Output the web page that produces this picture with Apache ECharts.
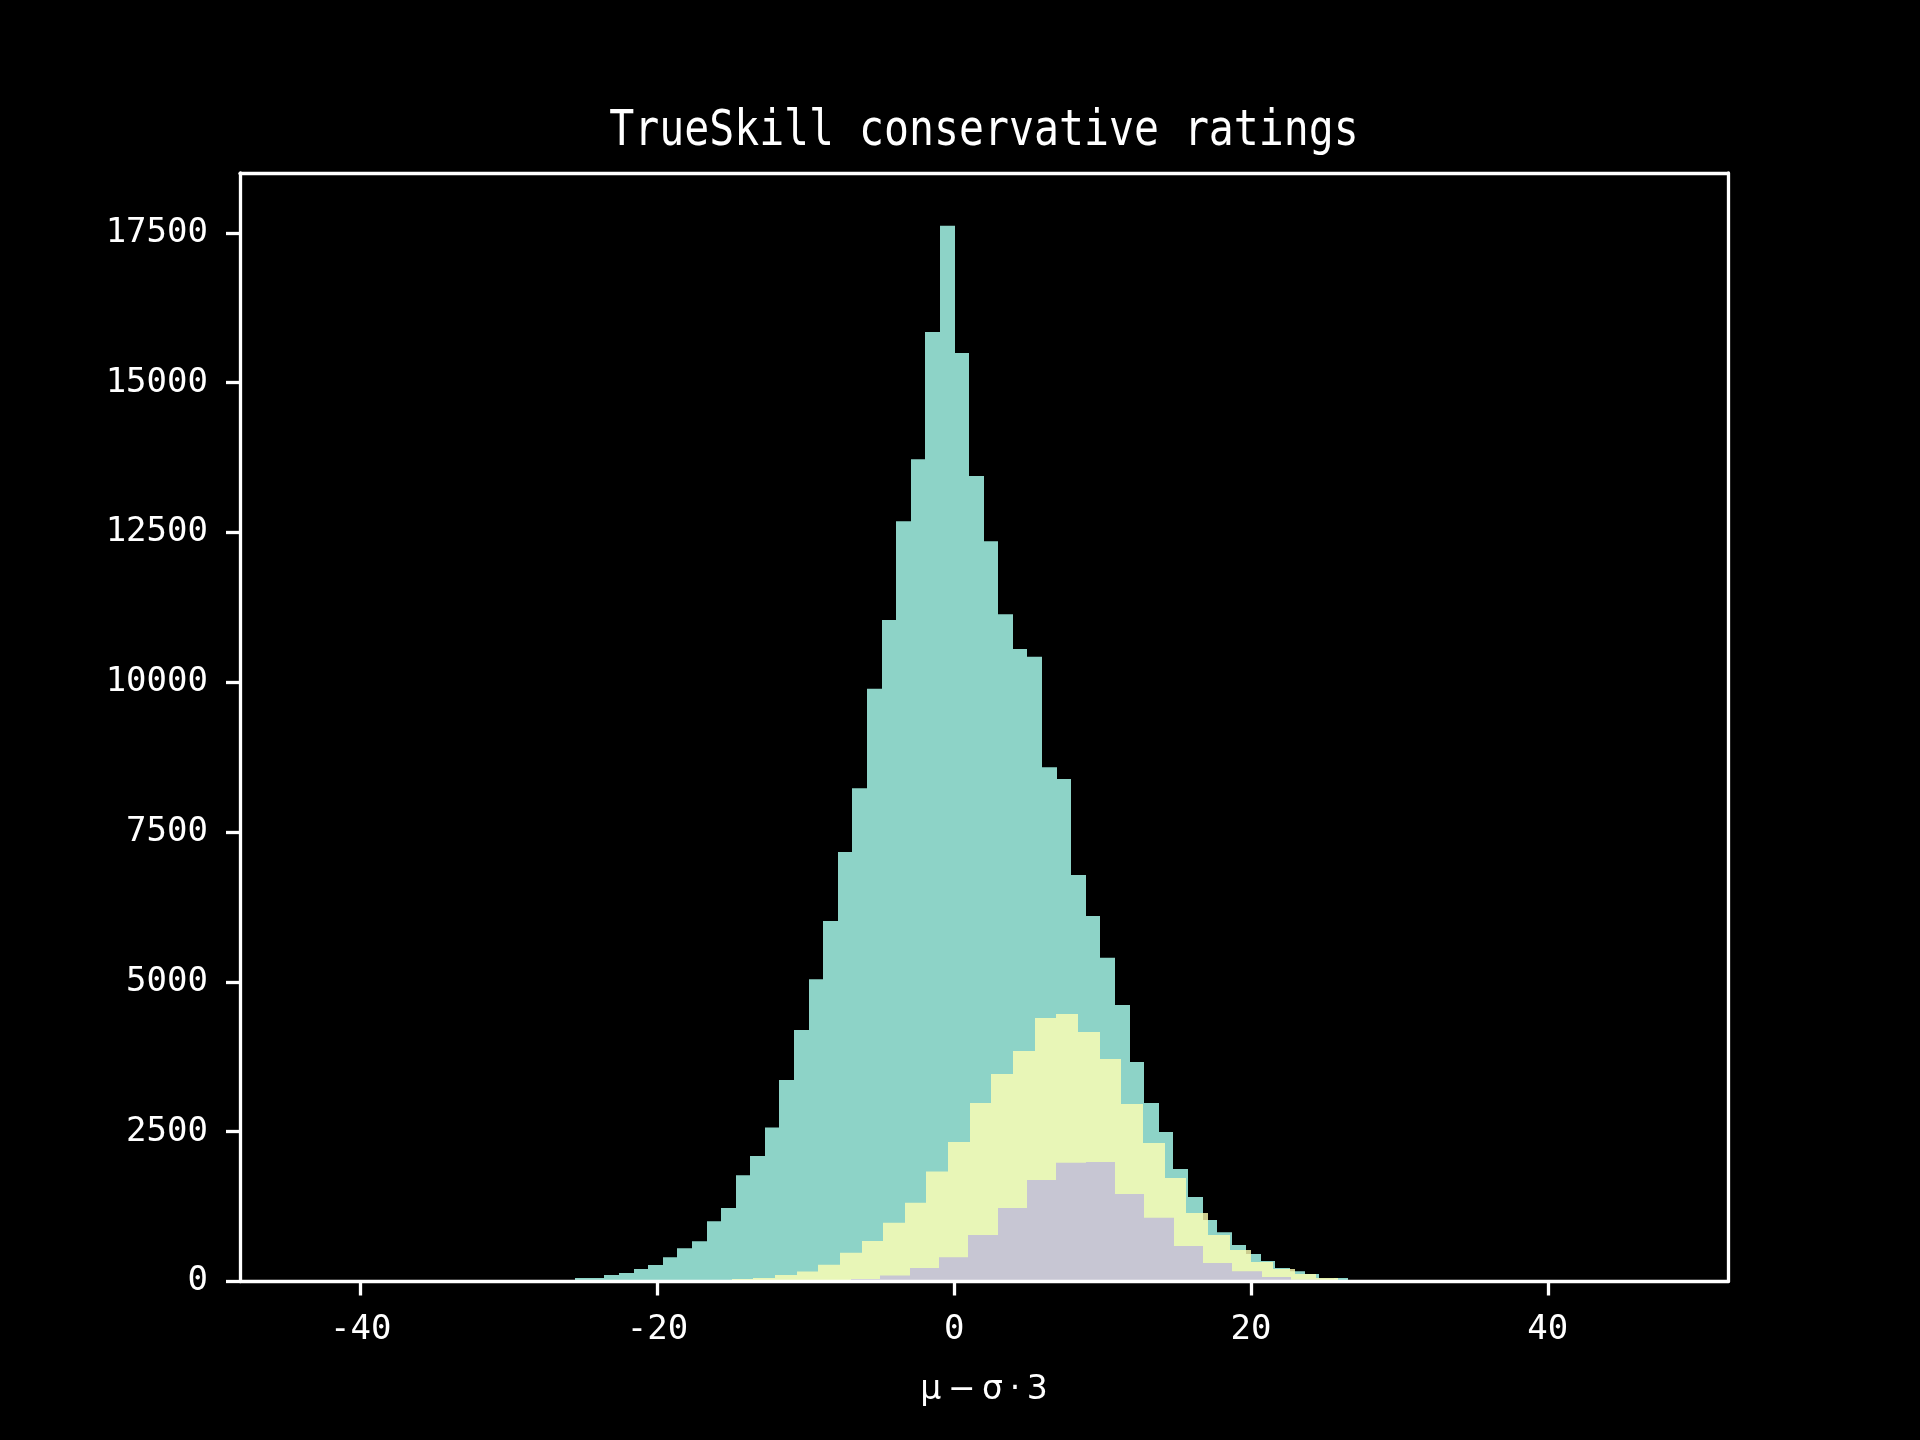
<!DOCTYPE html>
<html>
<head>
<meta charset="utf-8">
<script src="https://cdn.jsdelivr.net/npm/echarts@6/dist/echarts.min.js"></script>
<style>
html,body{margin:0;padding:0;background:#000;}
#chart{width:1920px;height:1440px;}
</style>
</head>
<body>
<div id="chart"></div>
<script>
// ---- data (histogram counts per bin; bins are evenly spaced) ----
const titleText = 'TrueSkill conservative ratings';
const xAxisName = 'μ\u2009−\u2009σ\u2009·\u20093';
const xTicks = [-40, -20, 0, 20, 40];
const yTicks = [0, 2500, 5000, 7500, 10000, 12500, 15000, 17500];

const tealStart = -27.508;
const tealWidth = 0.9831;
const tealCounts = [25, 25, 58, 58, 108, 142, 209, 275, 405, 556, 673, 1006, 1226,
  1773, 2096, 2572, 3361, 4196, 5043, 6017, 7166, 8233, 9893, 11041, 12689, 13721, 15845,
  17620, 15497, 13443, 12353, 11135, 10555, 10427, 8582, 8385, 6785, 6100, 5404, 4615, 3664,
  2979, 2494, 1877, 1412, 1028, 823, 610, 460, 343, 227, 173, 124, 55, 58, 25, 25];

const yellowStart = -16.46;
const yellowWidth = 1.459;
const yellowCounts = [25, 42, 60, 110, 165, 280, 480, 678, 980, 1315, 1835, 2329, 2980,
  3464, 3848, 4399, 4466, 4165, 3714, 2963, 2312, 1728, 1143, 776, 526, 326, 209, 125, 58, 25];

const purpleStart = -6.961;
const purpleWidth = 1.977;
const purpleCounts = [42, 100, 227, 405, 775, 1227, 1693, 1980, 1994, 1460, 1062, 591,
  309, 173, 77, 30];

// ---- build histogram data [binStart, binEnd, count] ----
function bins(start, width, counts) {
  return counts.map((c, i) => [start + i * width, start + (i + 1) * width, c]);
}

const FONT = '"DejaVu Sans Mono", "Liberation Mono", monospace';

function renderer(fill, opacity) {
  return function (params, api) {
    const p0 = api.coord([api.value(0), api.value(2)]);
    const p1 = api.coord([api.value(1), 0]);
    const left = Math.round(p0[0]);
    const right = Math.round(p1[0]);
    return {
      type: 'rect',
      shape: { x: left, y: p0[1], width: right - left, height: p1[1] - p0[1] },
      style: { fill: fill, opacity: opacity }
    };
  };
}

function histSeries(data, fill, opacity, z) {
  return {
    type: 'custom',
    data: data,
    encode: { x: [0, 1], y: 2 },
    renderItem: renderer(fill, opacity),
    clip: true,
    z: z,
    silent: true
  };
}

const whiteLine = { color: '#ffffff', width: 3.3 };
const plain = v => String(v);

const chart = echarts.init(document.getElementById('chart'), null, { renderer: 'canvas' });
chart.setOption({
  backgroundColor: '#000000',
  animation: false,
  grid: { left: 240, right: 192, top: 173, bottom: 158.5, containLabel: false },
  graphic: [{
    type: 'text',
    x: 984,
    y: 132,
    scaleX: 0.83,
    style: {
      text: titleText,
      font: '50px ' + FONT,
      fill: '#ffffff',
      align: 'center',
      verticalAlign: 'middle'
    }
  }],
  xAxis: [{
    type: 'value',
    position: 'bottom',
    min: -48.13,
    max: 52.14,
    z: 10,
    axisLine: { show: true, onZero: false, lineStyle: whiteLine },
    axisTick: { show: true, length: 14, lineStyle: whiteLine, customValues: xTicks },
    axisLabel: { show: true, customValues: xTicks, formatter: plain, color: '#ffffff', fontFamily: FONT, fontSize: 34, margin: 32 },
    splitLine: { show: false },
    name: xAxisName,
    nameLocation: 'middle',
    nameGap: 92,
    nameTextStyle: { color: '#ffffff', fontFamily: '"DejaVu Sans", sans-serif', fontSize: 33 }
  }, {
    type: 'value',
    position: 'top',
    min: -48.13,
    max: 52.14,
    z: 10,
    axisLine: { show: true, onZero: false, lineStyle: whiteLine },
    axisTick: { show: false },
    axisLabel: { show: false },
    splitLine: { show: false }
  }],
  yAxis: [{
    type: 'value',
    position: 'left',
    min: 0,
    max: 18500,
    z: 10,
    axisLine: { show: true, onZero: false, lineStyle: whiteLine },
    axisTick: { show: true, length: 14, lineStyle: whiteLine, customValues: yTicks },
    axisLabel: { show: true, customValues: yTicks, formatter: plain, color: '#ffffff', fontFamily: FONT, fontSize: 34, margin: 32 },
    splitLine: { show: false }
  }, {
    type: 'value',
    position: 'right',
    min: 0,
    max: 18500,
    z: 10,
    axisLine: { show: true, onZero: false, lineStyle: whiteLine },
    axisTick: { show: false },
    axisLabel: { show: false },
    splitLine: { show: false }
  }],
  series: [
    histSeries(bins(tealStart, tealWidth, tealCounts), '#8dd3c7', 1, 2),
    histSeries(bins(yellowStart, yellowWidth, yellowCounts), '#ffffb3', 0.8, 3),
    histSeries(bins(purpleStart, purpleWidth, purpleCounts), '#bebada', 0.8, 4)
  ]
});
</script>
</body>
</html>
